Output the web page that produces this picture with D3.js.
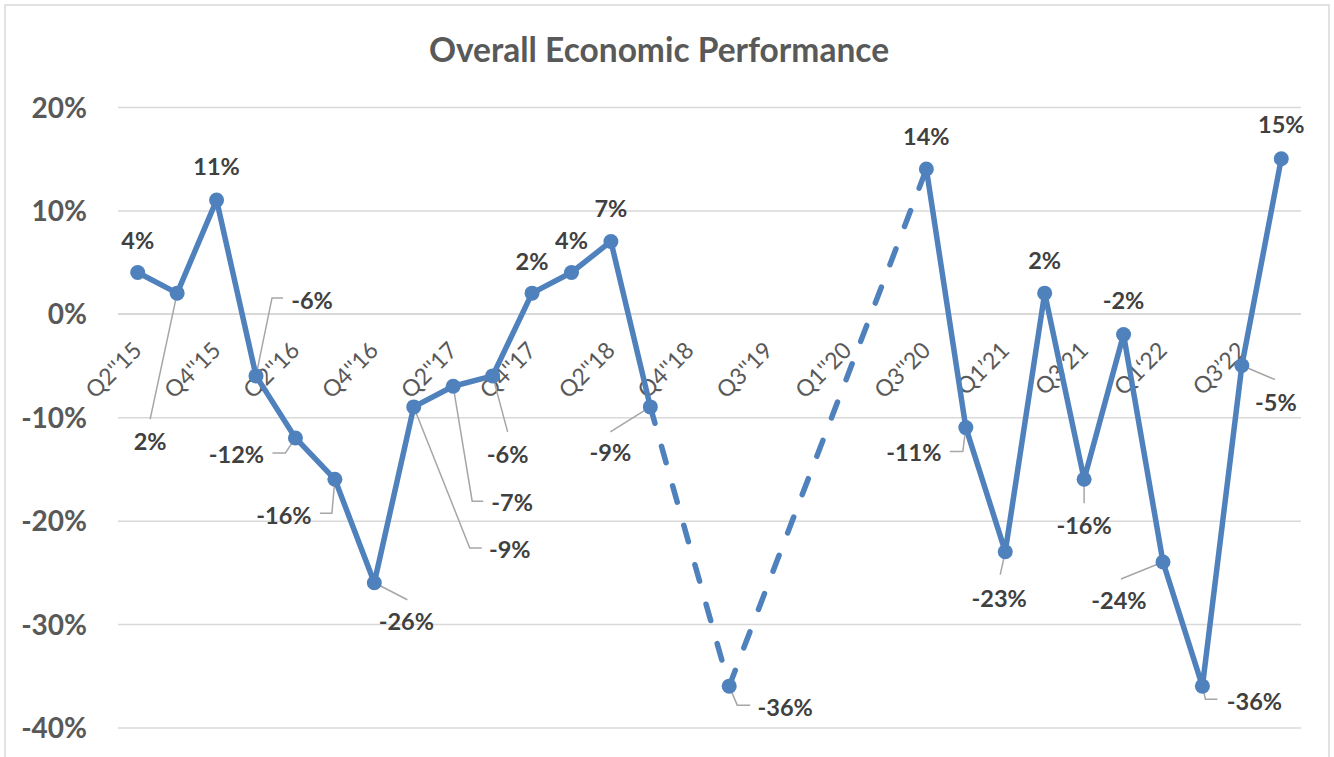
<!DOCTYPE html>
<html><head><meta charset="utf-8">
<script src="https://cdn.jsdelivr.net/npm/d3@7/dist/d3.min.js"></script>
<style>body{margin:0;background:#fff}svg{display:block}</style>
</head><body>
<svg id="chart" width="1334" height="757"></svg>
<script>
// ---- data ----
const categories = ["Q2''15","Q3''15","Q4''15","Q1''16","Q2''16","Q3''16","Q4''16","Q1''17","Q2''17","Q3''17",
  "Q4''17","Q1''18","Q2''18","Q3''18","Q4''18","Q2''19","Q3''19","Q4''19","Q1''20","Q2''20",
  "Q3''20","Q4''20","Q1\u201921","Q2\u201921","Q3\u201921","Q4\u201921","Q1\u201822","Q2\u201922","Q3\u201922","Q4\u201922"];
const values = [4,2,11,-6,-12,-16,-26,-9,-7,-6,2,4,7,-9,null,-36,null,null,null,null,14,-11,-23,2,-16,-2,-24,-36,-5,15];
const shownCategories = ["Q2''15","Q4''15","Q2''16","Q4''16","Q2''17","Q4''17","Q2''18","Q4''18","Q3''19","Q1''20","Q3''20","Q1\u201921","Q3\u201921","Q1\u201822","Q3\u201922"];
const yTicks = [20,10,0,-10,-20,-30,-40];
const title = "Overall Economic Performance";

// ---- label placement (text centre offset, leader polyline offsets) ----
const labelLayout = {
  0:{t:[0,-32]}, 1:{t:[-27,148], l:[[0,0],[-27,126]]}, 2:{t:[0,-34]},
  3:{t:[56,-75], l:[[0,0],[16,-78],[27,-78]]}, 4:{t:[-59,17], l:[[0,0],[-10,15],[-23,15]]},
  5:{t:[-51,36], l:[[0,0],[-3,34],[-15,34]]}, 6:{t:[32,39], l:[[0,0],[33,17]]},
  7:{t:[96,143], l:[[0,0],[56,141],[68,141]]}, 8:{t:[59,116], l:[[0,0],[19,115],[30,115]]},
  9:{t:[15,79], l:[[0,0],[15,56]]}, 10:{t:[0,-32]}, 11:{t:[0,-32]}, 12:{t:[0,-33]},
  13:{t:[-40,46], l:[[0,0],[-40,25]]}, 15:{t:[56,21], l:[[0,0],[8,19],[21,19]]},
  20:{t:[0,-33]}, 21:{t:[-52,25], l:[[0,0],[-3,24],[-16,24]]}, 22:{t:[-6,47], l:[[0,0],[-5,23]]},
  23:{t:[0,-33]}, 24:{t:[0,46], l:[[0,0],[0,24]]}, 25:{t:[0,-34]},
  26:{t:[-44,39], l:[[0,0],[-42,17]]}, 27:{t:[52,15], l:[[0,0],[3,13],[15,13]]},
  28:{t:[34,37], l:[[0,0],[33,14]]}, 29:{t:[0,-34]}
};

const plot = {left:118, right:1301, top:107, bottom:727.5};
const blue = "#4F81BD";
const font = "Lato, 'Open Sans', sans-serif";
const svg = d3.select("#chart");

svg.append("rect").attr("x",5).attr("y",5).attr("width",1324).attr("height",780)
  .attr("fill","#fff").attr("stroke","#d9d9d9").attr("stroke-width",1.5);

const x = d3.scalePoint().domain(categories).range([plot.left, plot.right]).padding(0.5);
const y = d3.scaleLinear().domain([-40,20]).range([plot.bottom, plot.top]);

// gridlines
const grid = svg.append("g").attr("transform",`translate(${plot.left},0)`)
  .call(d3.axisLeft(y).tickValues(yTicks).tickSize(-(plot.right-plot.left)).tickFormat(""));
grid.select(".domain").remove();
grid.selectAll("line").attr("stroke","#d9d9d9").attr("stroke-width",1.5);

// y axis labels
const yAx = svg.append("g").attr("transform",`translate(${plot.left},0)`)
  .call(d3.axisLeft(y).tickValues(yTicks).tickSize(0).tickPadding(31).tickFormat(d=>d+"%"));
yAx.select(".domain").remove();
yAx.selectAll("text").attr("font-family",font).attr("font-weight","bold")
  .attr("font-size",28).attr("fill","#595959").attr("dy","0.36em");

// x axis at 0
const xAx = svg.append("g").attr("transform",`translate(0,${y(0)})`)
  .call(d3.axisBottom(x).tickValues(shownCategories).tickSize(0).tickFormat(d=>d));
xAx.select(".domain").attr("stroke","#d9d9d9").attr("stroke-width",1.5)
  .attr("d",`M${plot.left},0H${plot.right}`);
xAx.selectAll(".tick text")
  .attr("font-family",font).attr("font-size",23).attr("fill","#595959")
  .attr("text-anchor","end").attr("x",0).attr("y",0).attr("dy",0)
  .attr("transform","translate(5,38) rotate(-45)");

// lines
const pts = values.map((v,i)=>({i, c:categories[i], v}));
const line = d3.line().defined(d=>d.v!==null).x(d=>x(d.c)).y(d=>y(d.v));
const defd = pts.filter(d=>d.v!==null);
const gaps = [];
for (let k=0;k<defd.length-1;k++) if (defd[k+1].i - defd[k].i > 1) gaps.push([defd[k], defd[k+1]]);
const lineGen = d3.line().x(d=>x(d.c)).y(d=>y(d.v));
svg.append("g").selectAll("path").data(gaps).join("path")
  .attr("d",d=>lineGen(d)).attr("fill","none").attr("stroke",blue).attr("stroke-width",5.5)
  .attr("stroke-dasharray","17,24").attr("stroke-linecap","round");
svg.append("path").datum(pts).attr("d",line).attr("fill","none").attr("stroke",blue)
  .attr("stroke-width",5.5).attr("stroke-linejoin","round");

// leader lines
const leaders = svg.append("g");
defd.forEach(d=>{
  const L = labelLayout[d.i];
  if (L && L.l) {
    leaders.append("path")
      .attr("d", d3.line()(L.l.map(p=>[x(d.c)+p[0], y(d.v)+p[1]])))
      .attr("fill","none").attr("stroke","#a6a6a6").attr("stroke-width",1.5);
  }
});

// markers
svg.append("g").selectAll("circle").data(defd).join("circle")
  .attr("cx",d=>x(d.c)).attr("cy",d=>y(d.v)).attr("r",7.5).attr("fill",blue);

// data labels
svg.append("g").selectAll("text").data(defd).join("text")
  .attr("x",d=>x(d.c)+labelLayout[d.i].t[0]).attr("y",d=>y(d.v)+labelLayout[d.i].t[1])
  .attr("dy","0.36em").attr("text-anchor","middle")
  .attr("font-family",font).attr("font-weight","bold").attr("font-size",23.5)
  .attr("fill","#404040").text(d=>d.v+"%");

// title
svg.append("text").attr("x",659).attr("y",50).attr("dy","0.36em").attr("text-anchor","middle")
  .attr("font-family",font).attr("font-weight","bold").attr("font-size",33.5)
  .attr("fill","#595959").text(title);
</script>
</body></html>
